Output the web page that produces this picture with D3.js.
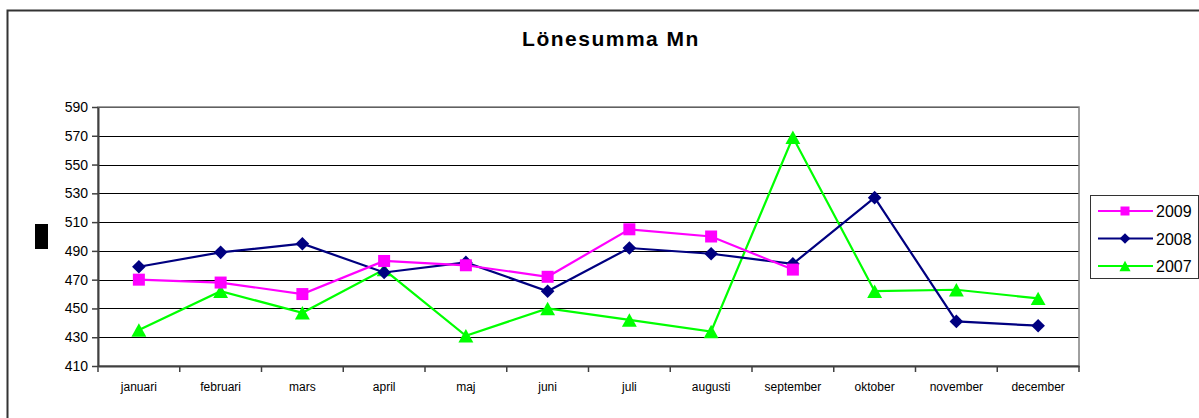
<!DOCTYPE html>
<html>
<head>
<meta charset="utf-8">
<script src="https://cdn.jsdelivr.net/npm/d3@7"></script>
<style>
  body { margin: 0; background: #fff; }
  text { font-family: "Liberation Sans", Arial, sans-serif; }
</style>
</head>
<body>
<div id="chart"></div>
<script>
(function(){

// data
var months = ["januari", "februari", "mars", "april", "maj", "juni", "juli",
              "augusti", "september", "oktober", "november", "december"];
var years = ["2009", "2008", "2007"];
var values2009 = [470, 468, 460, 483, 480, 472, 505, 500, 477, null, null, null];
var values2008 = [479, 489, 495, 475, 482, 462, 492, 488, 481, 527, 441, 438];
var values2007 = [435, 462, 447, 477, 431, 450, 442, 434, 569, 462, 463, 457];
var yTicks = [410, 430, 450, 470, 490, 510, 530, 550, 570, 590];

var series = [
  {name: years[0], values: values2009, color: "#ff00ff", shape: "square"},
  {name: years[1], values: values2008, color: "#000080", shape: "diamond"},
  {name: years[2], values: values2007, color: "#00ff00", shape: "triangle"}
];

var width = 1199, height = 418;
var plot = {left: 98, right: 1079, top: 107, bottom: 366};

var svg = d3.select("#chart")
  .append("svg")
    .attr("width", width)
    .attr("height", height);

// outer chart frame (right/bottom fall outside the picture)
svg.append("rect")
  .attr("x", 7.5).attr("y", 10.5)
  .attr("width", 1200).attr("height", 420)
  .attr("fill", "none")
  .attr("stroke", "#333")
  .attr("stroke-width", 2);

var x = d3.scaleBand()
  .domain(months)
  .range([plot.left, plot.right])
  .padding(0);

var y = d3.scaleLinear()
  .domain([410, 590])
  .range([plot.bottom, plot.top]);

//gridlines
svg.append("g")
  .attr("transform", "translate(" + plot.left + ",0)")
  .call(d3.axisLeft(y).tickValues(yTicks).tickSize(-(plot.right - plot.left)).tickFormat(""))
  .call(function(g){ g.select(".domain").remove(); })
  .selectAll("line")
    .attr("stroke", "#000")
    .attr("stroke-width", 1)
    .attr("shape-rendering", "crispEdges");

// plot border
svg.append("rect")
  .attr("x", plot.left).attr("y", plot.top)
  .attr("width", plot.right - plot.left)
  .attr("height", plot.bottom - plot.top)
  .attr("fill", "none")
  .attr("stroke", "#808080")
  .attr("stroke-width", 1.5);

// y axis
var yAxis = svg.append("g")
  .attr("transform", "translate(" + plot.left + ",0)")
  .call(d3.axisLeft(y).tickValues(yTicks).tickSize(6).tickSizeOuter(0).tickPadding(4));
yAxis.select(".domain").attr("stroke", "#404040").attr("stroke-width", 2);
yAxis.selectAll(".tick line").attr("stroke", "#404040").attr("stroke-width", 1.5);
yAxis.selectAll("text")
  .attr("font-size", "14px")
  .attr("fill", "#000")
  .style("font-family", "'Liberation Sans', Arial, sans-serif");

// x axis: labels centred in bands, ticks at band edges
var xAxis = svg.append("g")
  .attr("transform", "translate(0," + plot.bottom + ")")
  .call(d3.axisBottom(x).tickSize(0).tickPadding(16));
xAxis.select(".domain").attr("stroke", "#404040").attr("stroke-width", 2);
xAxis.selectAll("text")
  .attr("font-size", "12px")
  .attr("fill", "#000")
  .style("font-family", "'Liberation Sans', Arial, sans-serif");

svg.append("g")
  .selectAll("line")
  .data(months.concat(["end"]))
  .enter()
  .append("line")
    .attr("x1", function(d, i){ return i < months.length ? x(d) : x(months[months.length - 1]) + x.bandwidth(); })
    .attr("x2", function(d, i){ return i < months.length ? x(d) : x(months[months.length - 1]) + x.bandwidth(); })
    .attr("y1", plot.bottom)
    .attr("y2", plot.bottom + 6)
    .attr("stroke", "#404040")
    .attr("stroke-width", 1.5);

// marker shapes
function markerPath(shape, s) {
  if (shape === "square") return d3.symbol().type(d3.symbolSquare).size(s * s)();
  if (shape === "diamond") {
    var r = s / 2 + 0.8;
    return "M0," + (-r) + "L" + r + ",0L0," + r + "L" + (-r) + ",0Z";
  }
  var h = s * 0.95, w = s * 0.62;
  return "M0," + (-h / 2 - 1) + "L" + w + "," + (h / 2 + 1) + "L" + (-w) + "," + (h / 2 + 1) + "Z";
}

var line = d3.line()
  .defined(function(d){ return d.v != null; })
  .x(function(d){ return x(d.m) + x.bandwidth() / 2; })
  .y(function(d){ return y(d.v); });

// draw in reverse so 2009 is on top
series.slice().reverse().forEach(function(s){
  var pts = months.map(function(m, i){ return {m: m, v: s.values[i]}; });

  svg.append("path")
    .datum(pts)
    .attr("d", line)
    .attr("fill", "none")
    .attr("stroke", s.color)
    .attr("stroke-width", 2.2);

  svg.append("g")
    .selectAll("path")
    .data(pts.filter(function(d){ return d.v != null; }))
    .enter()
    .append("path")
      .attr("transform", function(d){ return "translate(" + (x(d.m) + x.bandwidth() / 2) + "," + y(d.v) + ")"; })
      .attr("d", markerPath(s.shape, 12))
      .attr("fill", s.color);
});

// title
svg.append("text")
  .attr("x", 611)
  .attr("y", 46)
  .attr("text-anchor", "middle")
  .attr("font-size", "21px")
  .attr("font-weight", "bold")
  .attr("letter-spacing", "1.5px")
  .text("Lönesumma Mn");

// collapsed axis title block
svg.append("rect")
  .attr("x", 35).attr("y", 224)
  .attr("width", 13).attr("height", 25)
  .attr("fill", "#000");

// legend
var legend = svg.append("g").attr("transform", "translate(1090,195)");
legend.append("rect")
  .attr("x", 0.5).attr("y", 0.5)
  .attr("width", 108).attr("height", 83)
  .attr("fill", "#fff")
  .attr("stroke", "#333")
  .attr("stroke-width", 1);

var item = legend.selectAll(".item")
  .data(series)
  .enter()
  .append("g")
    .attr("transform", function(d, i){ return "translate(0," + (16 + i * 27.5) + ")"; });

item.append("line")
  .attr("x1", 8).attr("x2", 63)
  .attr("stroke", function(d){ return d.color; })
  .attr("stroke-width", 2);
item.append("path")
  .attr("transform", "translate(35,0)")
  .attr("d", function(d){ return markerPath(d.shape, 9); })
  .attr("fill", function(d){ return d.color; });
item.append("text")
  .attr("x", 66)
  .attr("y", 6)
  .attr("font-size", "16px")
  .text(function(d){ return d.name; });

})();
</script>
</body>
</html>
